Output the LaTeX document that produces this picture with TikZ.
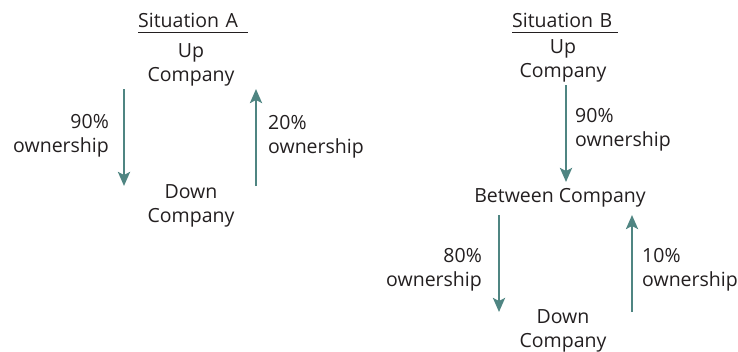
\documentclass[tikz,border=0pt]{standalone}
\usepackage{fontspec}
\setmainfont{Open Sans}
\usetikzlibrary{arrows.meta}
\definecolor{txt}{HTML}{231F20}
\definecolor{teal}{HTML}{4F8582}
\begin{document}
\begin{tikzpicture}[x=1pt,y=-1pt,
  lbl/.style={font=\fontsize{19.5}{24}\selectfont, text=txt, inner sep=0pt, align=center},
  lblr/.style={lbl, align=right, anchor=east},
  lbll/.style={lbl, align=left, anchor=west},
  ttl/.style={lbl, align=left, anchor=base west},
  uline/.style={draw=txt, line width=1.2pt},
  own/.style={draw=teal, line width=2.6pt, -{Stealth[length=14pt,width=12pt,inset=3pt]}}]
\useasboundingbox (0,0) rectangle (738,351);
% Situation A
\node[ttl, text width=110pt] (tA) at (138,27) {Situation A};
\draw[uline] ([yshift=-5.5pt]tA.base west) -- ([yshift=-5.5pt]tA.base east);
\node[lbl] (upA) at (191,64.5) {Up\\Company};
\node[lbl] (downA) at (191,205.5) {Down\\Company};
\node[lblr] (labA1) at (109,135.5) {90\%\\ownership};
\node[lbll] (labA2) at (268,136.5) {20\%\\ownership};
\coordinate (a1s) at (124,89);
\coordinate (a1e) at (124,186);
\coordinate (a2s) at (256,186);
\coordinate (a2e) at (256,89);
\draw[own] (a1s) -- (a1e);
\draw[own] (a2s) -- (a2e);
% Situation B
\node[ttl, text width=106pt] (tB) at (512,27) {Situation B};
\draw[uline] ([yshift=-5.5pt]tB.base west) -- ([yshift=-5.5pt]tB.base east);
\node[lbl] (upB) at (563,60.5) {Up\\Company};
\node[lbl, anchor=base] (betw) at (560,202) {Between Company};
\node[lbl] (downB) at (563,330.5) {Down\\Company};
\node[lbll] (labB1) at (575,129.5) {90\%\\ownership};
\node[lblr] (labB2) at (482,269.5) {80\%\\ownership};
\node[lbll] (labB3) at (642,269.5) {10\%\\ownership};
\coordinate (b1s) at (566,85);
\coordinate (b1e) at (566,182);
\coordinate (b2s) at (499,215);
\coordinate (b2e) at (499,312);
\coordinate (b3s) at (632,312);
\coordinate (b3e) at (632,215);
\draw[own] (b1s) -- (b1e);
\draw[own] (b2s) -- (b2e);
\draw[own] (b3s) -- (b3e);
\end{tikzpicture}
\end{document}
